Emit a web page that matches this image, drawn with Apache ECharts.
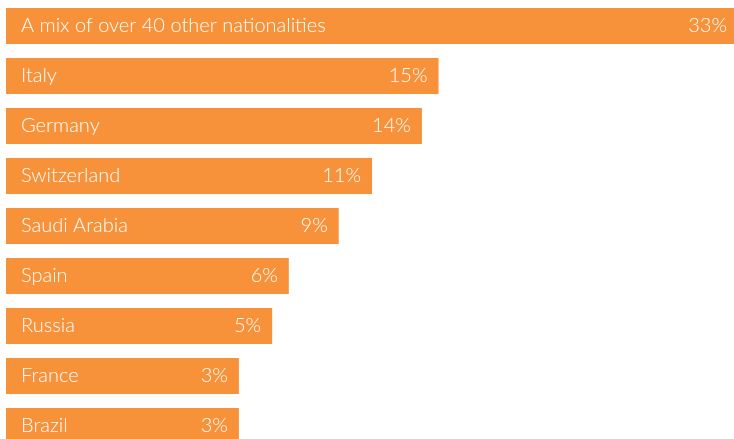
<!DOCTYPE html>
<html>
<head>
<meta charset="utf-8">
<script src="https://cdn.jsdelivr.net/npm/echarts@6/dist/echarts.min.js"></script>
<style>
html,body{margin:0;padding:0;background:#fff;}
#c{width:734px;height:439px;}
</style>
</head>
<body>
<div id="c"></div>
<script>
const categories = ['A mix of over 40 other nationalities','Italy','Germany','Switzerland','Saudi Arabia','Spain','Russia','France','Brazil'];
const shares = [33,15,14,11,9,6,5,3,3];

const chart = echarts.init(document.getElementById('c'), null, {renderer:'canvas'});
const font = 'Lato';
chart.setOption({
  animation:false,
  grid:{left:6, width:732, top:1, height:450, containLabel:false, outerBoundsMode:'none'},
  xAxis:{type:'value', min:-11, max:33, startValue:-11, show:false, splitLine:{show:false}},
  yAxis:{type:'category', data:categories, inverse:true, z:10,
    axisLine:{show:false}, axisTick:{show:false}, splitLine:{show:false},
    axisLabel:{inside:true, margin:15, color:'#fff', fontSize:20, fontFamily:font, fontWeight:300}},
  series:[{type:'bar', data:shares, barWidth:36, itemStyle:{color:'#F7923A'},
    label:{show:true, position:'insideRight', distance:11, formatter:'{c}%', color:'#fff', fontSize:20, fontFamily:font, fontWeight:300}}]
});
</script>
</body>
</html>
